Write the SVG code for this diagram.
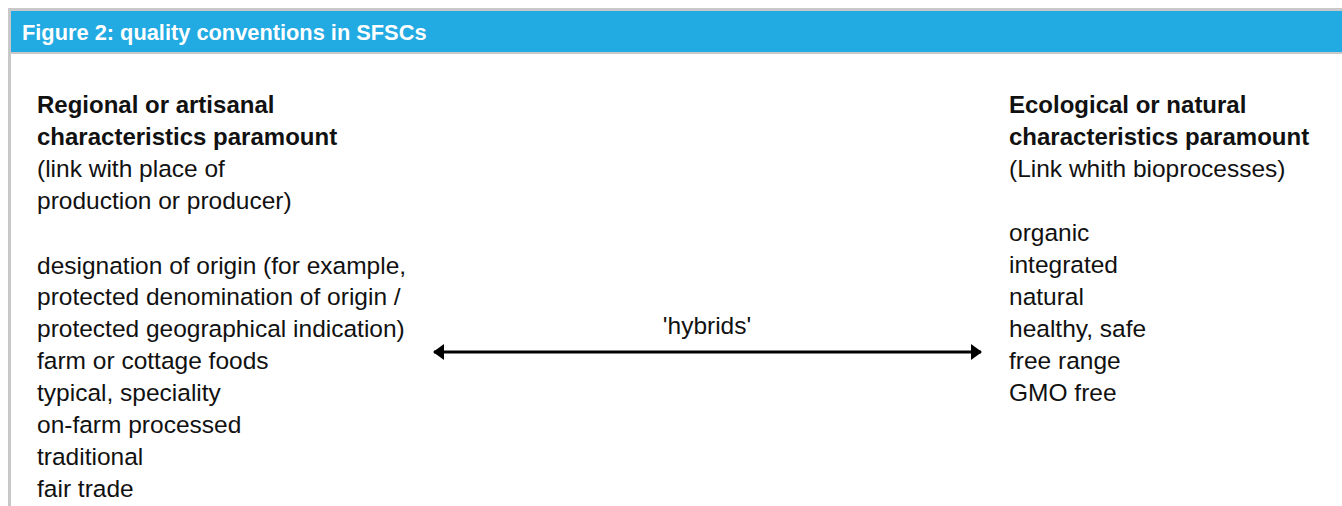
<svg xmlns="http://www.w3.org/2000/svg" width="1342" height="506" viewBox="0 0 1342 506">
<style>
  .t{font-family:"Liberation Sans",Arial,sans-serif;font-size:24.5px;fill:#111}
  .b{font-weight:bold;font-size:24px}
  .h{font-family:"Liberation Sans",Arial,sans-serif;font-size:21.8px;font-weight:bold;fill:#fff}
</style>
<defs>
  <marker id="ah" viewBox="0 0 11 16" refX="10" refY="8" markerWidth="11" markerHeight="16" markerUnits="userSpaceOnUse" orient="auto-start-reverse">
    <path d="M0,0 L11,8 L0,16 Z" fill="#000"/>
  </marker>
</defs>
<rect width="1342" height="506" fill="#fff"/>
<g id="frame">
  <rect x="8" y="8" width="1334" height="3" fill="#c8c8c8"/>
  <rect x="8" y="8" width="3" height="498" fill="#c8c8c8"/>
  <rect x="11" y="11" width="1331" height="41" fill="#22aae2"/>
  <rect x="11" y="52" width="1331" height="2" fill="#c8c8c8"/>
  <text class="h" x="22" y="40">Figure 2: quality conventions in SFSCs</text>
</g>
<g id="left">
  <text class="t b" x="37" y="113">Regional or artisanal</text>
  <text class="t b" x="37" y="145">characteristics paramount</text>
  <text class="t" x="37" y="177">(link with place of</text>
  <text class="t" x="37" y="209">production or producer)</text>
  <text class="t" x="37" y="274">designation of origin (for example,</text>
  <text class="t" x="37" y="305">protected denomination of origin /</text>
  <text class="t" x="37" y="337">protected geographical indication)</text>
  <text class="t" x="37" y="369">farm or cottage foods</text>
  <text class="t" x="37" y="401">typical, speciality</text>
  <text class="t" x="37" y="433">on-farm processed</text>
  <text class="t" x="37" y="465">traditional</text>
  <text class="t" x="37" y="497">fair trade</text>
</g>
<g id="right">
  <text class="t b" x="1009" y="113">Ecological or natural</text>
  <text class="t b" x="1009" y="145">characteristics paramount</text>
  <text class="t" x="1009" y="177">(Link whith bioprocesses)</text>
  <text class="t" x="1009" y="241">organic</text>
  <text class="t" x="1009" y="273">integrated</text>
  <text class="t" x="1009" y="305">natural</text>
  <text class="t" x="1009" y="337">healthy, safe</text>
  <text class="t" x="1009" y="369">free range</text>
  <text class="t" x="1009" y="401">GMO free</text>
</g>
<g id="connectors">
  <line x1="434" y1="352" x2="981" y2="352" stroke="#000" stroke-width="3" marker-start="url(#ah)" marker-end="url(#ah)"/>
  <text class="t" x="707" y="334" text-anchor="middle">'hybrids'</text>
</g>
</svg>
